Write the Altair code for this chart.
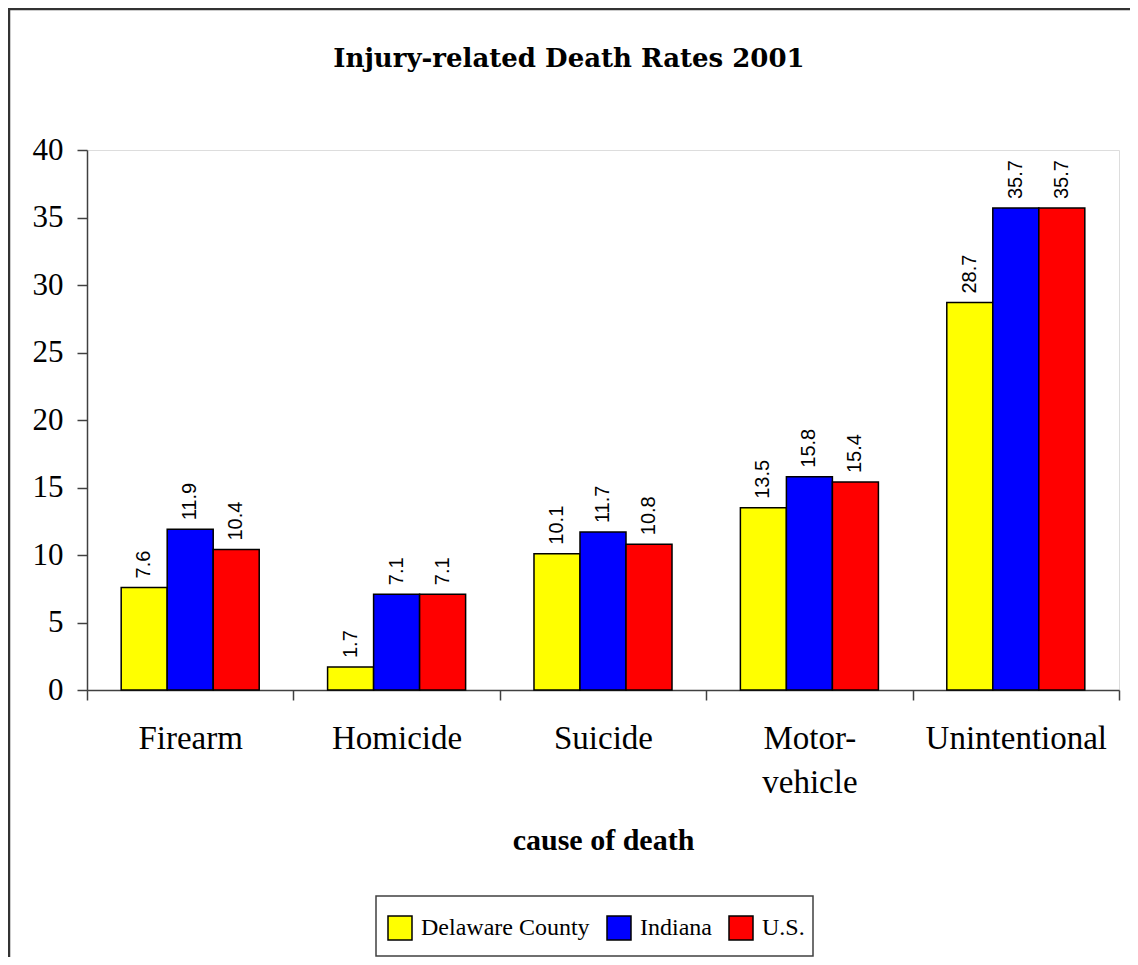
import altair as alt
import pandas as pd

causes = ["Firearm", "Homicide", "Suicide", "Motor-vehicle", "Unintentional"]
regions = ["Delaware County", "Indiana", "U.S."]
delaware = [7.6, 1.7, 10.1, 13.5, 28.7]
indiana = [11.9, 7.1, 11.7, 15.8, 35.7]
us = [10.4, 7.1, 10.8, 15.4, 35.7]
colors = ["#FFFF00", "#0000FF", "#FF0000"]
y_ticks = [0, 5, 10, 15, 20, 25, 30, 35, 40]

rows = []
for r, vals in zip(regions, [delaware, indiana, us]):
    for c, v in zip(causes, vals):
        rows.append({"cause": c, "region": r, "rate": v, "label": f"{v:.1f}"})
df = pd.DataFrame(rows)

W, H = 1032, 540
PAD_L, PAD_T = 79, 142
PAD_R = 1122 - W - PAD_L
PAD_B = 949 - H - PAD_T

serif = "Liberation Serif"

x_enc = alt.X(
    "cause:N",
    sort=causes,
    scale=alt.Scale(paddingInner=0, paddingOuter=0),
    axis=alt.Axis(
        title="cause of death",
        labelAngle=0,
        tickBand="extent",
        tickSize=10,
        tickColor="#404040",
        tickWidth=1.5,
        domainColor="#404040",
        domainWidth=1.5,
        labelFont=serif,
        labelFontSize=33,
        labelColor="black",
        labelPadding=22,
        labelLineHeight=44,
        labelBaseline="top",
        labelLimit=400,
        labelExpr="datum.value == 'Motor-vehicle' ? ['Motor-', 'vehicle'] : datum.value",
        titleFont=serif,
        titleFontSize=30,
        titleFontWeight="bold",
        titleColor="black",
        titlePadding=26,
    ),
)
xo_enc = alt.XOffset(
    "region:N", sort=regions,
    scale=alt.Scale(paddingInner=0, paddingOuter=0.743),
)
y_enc = alt.Y(
    "rate:Q",
    scale=alt.Scale(domain=[0, 40], nice=False),
    axis=alt.Axis(
        title=None,
        values=y_ticks,
        grid=False,
        tickSize=10,
        tickColor="#404040",
        tickWidth=1.5,
        domainColor="#404040",
        domainWidth=1.5,
        labelFont=serif,
        labelFontSize=31,
        labelColor="black",
        labelPadding=14,
    ),
)

color_enc = alt.Color(
    "region:N",
    sort=regions,
    scale=alt.Scale(domain=regions, range=colors),
    legend=alt.Legend(
        title=None,
        orient="none",
        direction="horizontal",
        legendX=300,
        legendY=765,
        symbolType="square",
        symbolSize=576,
        symbolStrokeColor="black",
        symbolStrokeWidth=1.5,
        symbolOpacity=1,
        labelFont=serif,
        labelFontSize=24,
        labelColor="black",
        labelOffset=8,
        labelLimit=400,
        columnPadding=14,
        padding=0,
    ),
)

bars = alt.Chart(df).mark_bar(stroke="black", strokeWidth=1.5, opacity=1).encode(
    x=x_enc, xOffset=xo_enc, y=y_enc, color=color_enc
)

labels = alt.Chart(df).mark_text(
    angle=270, align="left", baseline="middle", dx=9,
    font="Liberation Sans", fontSize=20, color="black",
).encode(x=x_enc, xOffset=xo_enc, y=y_enc, text="label:N")

one = alt.Data(values=[{"k": 1}])
frame = alt.Chart(one).mark_rect(fill=None, stroke="#333333", strokeWidth=2.5).encode(
    x=alt.value(-PAD_L + 1), x2=alt.value(W + 400),
    y=alt.value(-PAD_T + 1), y2=alt.value(H + 600),
)
legend_box = alt.Chart(one).mark_rect(fill=None, stroke="#404040", strokeWidth=1.5).encode(
    x=alt.value(289), x2=alt.value(726),
    y=alt.value(746), y2=alt.value(806),
)

chart = alt.layer(frame, legend_box, bars, labels).properties(
    width=W,
    height=H,
    autosize=alt.AutoSizeParams(type="none"),
    padding={"left": PAD_L, "top": PAD_T, "right": PAD_R, "bottom": PAD_B},
    title=alt.TitleParams(
        text="Injury-related Death Rates 2001",
        font="DejaVu Serif",
        fontSize=26,
        fontWeight="bold",
        color="black",
        anchor="middle",
        frame="group",
        dx=-34,
        offset=-85,
        baseline="alphabetic",
    ),
).configure_view(
    stroke="#808080", strokeWidth=1.5
).configure(background="white")

chart.save("out.html", embed_options={"renderer": "svg", "actions": False})
